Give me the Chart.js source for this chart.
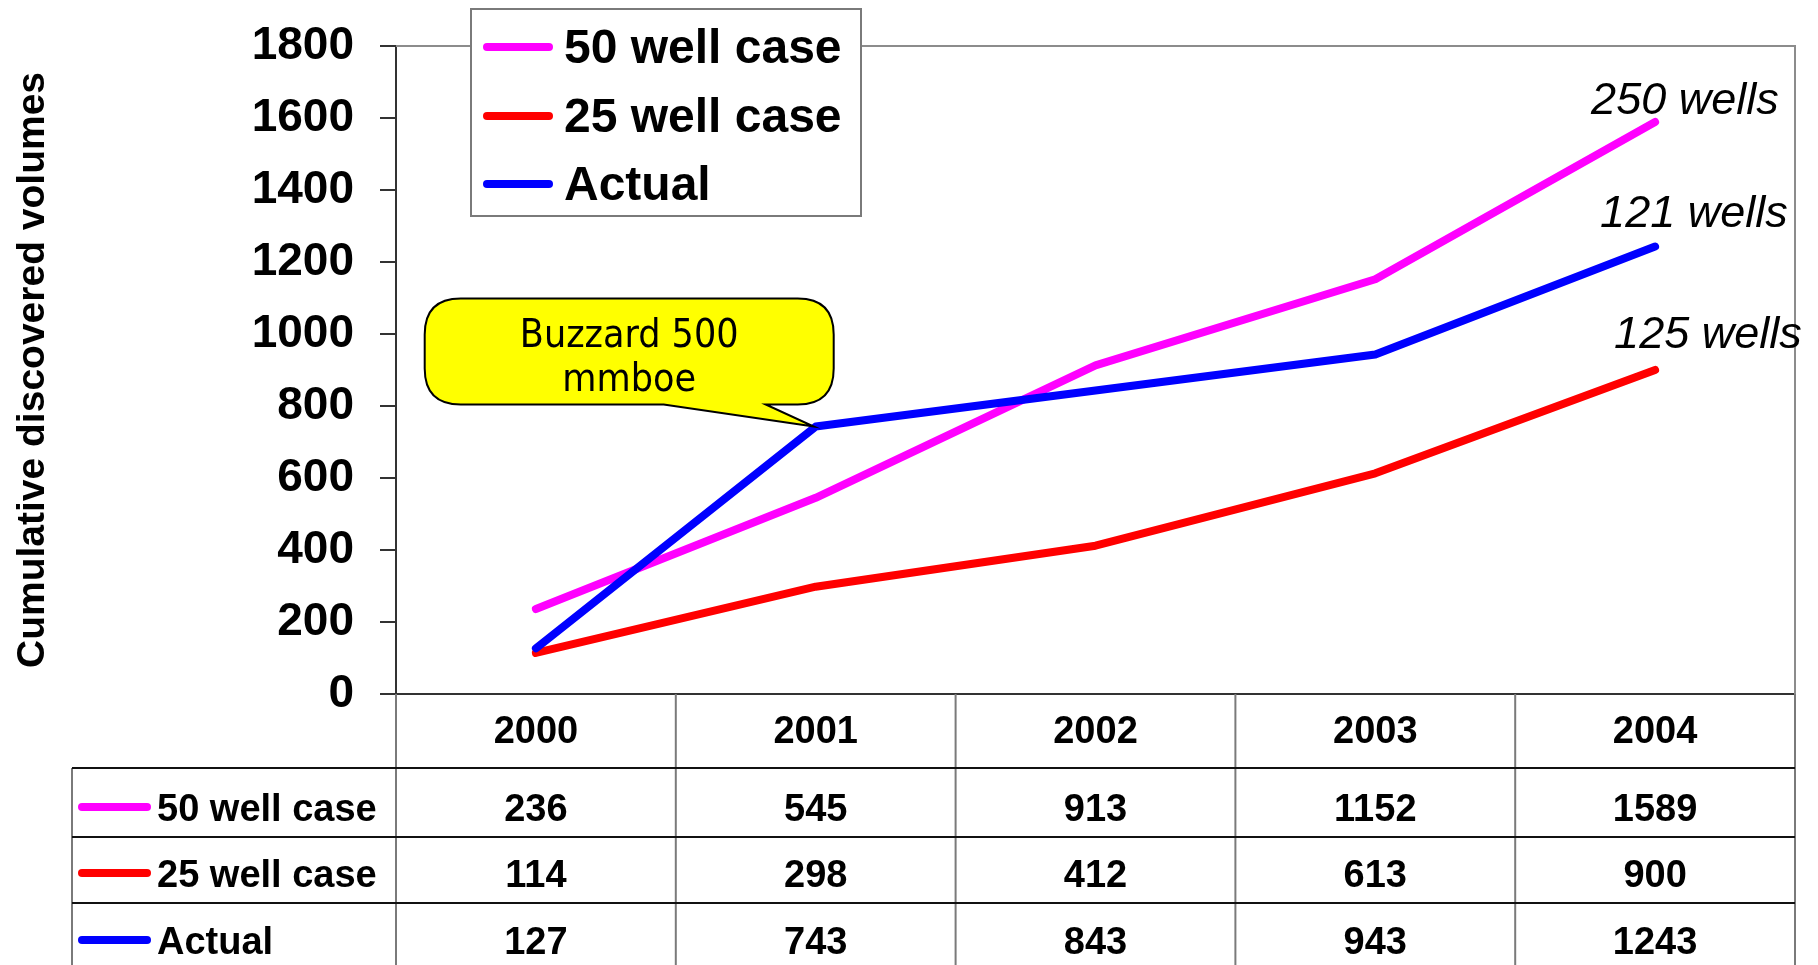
<!DOCTYPE html>
<html><head><meta charset="utf-8">
<script src="https://cdn.jsdelivr.net/npm/chart.js@4.4.1/dist/chart.umd.min.js"></script>
<style>html,body{margin:0;padding:0;background:#fff;overflow:hidden}#wrap{width:1818px;height:965px;position:relative}</style>
</head><body><div id="wrap"><canvas id="c" width="1818" height="965"></canvas></div>
<script>
const years = ['2000', '2001', '2002', '2003', '2004'];
const well50 = [236, 545, 913, 1152, 1589];
const well25 = [114, 298, 412, 613, 900];
const actual = [127, 743, 843, 943, 1243];
const seriesNames = ['50 well case', '25 well case', 'Actual'];
const seriesColors = ['#FF00FF', '#FF0000', '#0000FF'];
const endLabels = ['250 wells', '125 wells', '121 wells'];
const yTicks = [0, 200, 400, 600, 800, 1000, 1200, 1400, 1600, 1800];
const calloutLines = ['Buzzard 500', 'mmboe'];
const yTitle = 'Cumulative discovered volumes';

const seriesData = [well50, well25, actual];
const BOLD = "'Liberation Sans', Arial, sans-serif";

const deco = {
  id: 'deco',
  afterDraw(chart) {
    const ctx = chart.ctx, ca = chart.chartArea;
    const n = years.length, band = (ca.right - ca.left) / n;
    ctx.save();
    // plot area border (top, right)
    ctx.strokeStyle = '#8c8c8c'; ctx.lineWidth = 2;
    ctx.beginPath(); ctx.moveTo(ca.left, ca.top); ctx.lineTo(ca.right, ca.top); ctx.lineTo(ca.right, ca.bottom); ctx.stroke();

    // ---- data table ----
    const rowTops = [ca.bottom, ca.bottom + 74, ca.bottom + 143, ca.bottom + 209];
    const tableLeft = 72, bottom = chart.height + 10;
    ctx.strokeStyle = '#7a7a7a'; ctx.lineWidth = 2;
    for (let i = 0; i <= n; i++) {
      const x = ca.left + i * band;
      ctx.beginPath(); ctx.moveTo(x, ca.bottom); ctx.lineTo(x, bottom); ctx.stroke();
    }
    ctx.beginPath(); ctx.moveTo(tableLeft, rowTops[1]); ctx.lineTo(tableLeft, bottom); ctx.stroke();
    ctx.strokeStyle = '#111';
    for (let r = 1; r < rowTops.length; r++) {
      ctx.beginPath(); ctx.moveTo(tableLeft, rowTops[r]); ctx.lineTo(ca.right, rowTops[r]); ctx.stroke();
    }
    ctx.fillStyle = '#000'; ctx.textAlign = 'center'; ctx.textBaseline = 'middle';
    ctx.font = 'bold 38px ' + BOLD;
    const xs = chart.scales.x;
    years.forEach((y, i) => ctx.fillText(y, xs.getPixelForValue(i), ca.bottom + 39));
    const rowY = [ca.bottom + 117, ca.bottom + 183, ca.bottom + 250];
    seriesData.forEach((arr, s) => {
      ctx.textAlign = 'center';
      arr.forEach((v, i) => ctx.fillText(String(v), xs.getPixelForValue(i), rowY[s]));
      // row key
      ctx.strokeStyle = seriesColors[s]; ctx.lineWidth = 8; ctx.lineCap = 'round';
      ctx.beginPath(); ctx.moveTo(82, rowY[s] - 4); ctx.lineTo(147, rowY[s] - 4); ctx.stroke();
      ctx.textAlign = 'left';
      ctx.fillText(seriesNames[s], 157, rowY[s]);
    });

    // ---- legend ----
    ctx.lineCap = 'butt';
    ctx.fillStyle = '#fff'; ctx.fillRect(471, 9, 390, 207);
    ctx.strokeStyle = '#7a7a7a'; ctx.lineWidth = 2; ctx.strokeRect(471, 9, 390, 207);
    ctx.font = 'bold 48px ' + BOLD; ctx.textAlign = 'left';
    const legY = [47, 116, 184];
    chart.data.datasets.forEach((ds, i) => {
      ctx.strokeStyle = ds.borderColor; ctx.lineWidth = 8; ctx.lineCap = 'round';
      ctx.beginPath(); ctx.moveTo(487, legY[i]); ctx.lineTo(549, legY[i]); ctx.stroke();
      ctx.fillStyle = '#000';
      ctx.fillText(ds.label, 564, legY[i] + 3);
    });

    // ---- end labels ----
    ctx.font = 'italic 45px ' + BOLD;
    const endOff = [[-64, -20], [-41, -35], [-55, -32]];
    chart.data.datasets.forEach((ds, i) => {
      const meta = chart.getDatasetMeta(i);
      const p = meta.data[meta.data.length - 1];
      ctx.fillText(endLabels[i], p.x + endOff[i][0], p.y + endOff[i][1]);
    });

    // ---- callout ----
    const pm = chart.getDatasetMeta(2).data[1];
    const px = pm.x - 2, py = pm.y;
    const L = px - 389, R = px + 20, T = py - 128, B = py - 22, rad = 36;
    ctx.beginPath();
    ctx.moveTo(L + rad, T);
    ctx.lineTo(R - rad, T); ctx.quadraticCurveTo(R, T, R, T + rad);
    ctx.lineTo(R, B - rad); ctx.quadraticCurveTo(R, B, R - rad, B);
    ctx.lineTo(px - 48, B); ctx.lineTo(px, py); ctx.lineTo(px - 150, B);
    ctx.lineTo(L + rad, B); ctx.quadraticCurveTo(L, B, L, B - rad);
    ctx.lineTo(L, T + rad); ctx.quadraticCurveTo(L, T, L + rad, T);
    ctx.closePath();
    ctx.fillStyle = '#FFFF00'; ctx.fill();
    ctx.strokeStyle = '#000'; ctx.lineWidth = 2; ctx.lineJoin = 'miter'; ctx.stroke();
    ctx.fillStyle = '#000'; ctx.textAlign = 'center';
    ctx.font = "39px 'DejaVu Sans Condensed', 'DejaVu Sans', sans-serif";
    ctx.fillText(calloutLines[0], (L + R) / 2, py - 90);
    ctx.fillText(calloutLines[1], (L + R) / 2, py - 46);
    ctx.restore();
  }
};

new Chart(document.getElementById('c'), {
  type: 'line',
  data: {
    labels: years,
    datasets: seriesData.map((d, i) => ({
      label: seriesNames[i], data: d, borderColor: seriesColors[i], backgroundColor: seriesColors[i],
      borderWidth: 8, pointRadius: 0, tension: 0, fill: false,
      borderCapStyle: 'round', borderJoinStyle: 'round', order: 3 - i
    }))
  },
  options: {
    responsive: false, animation: false,
    layout: { padding: { left: 0, right: 23, top: 46, bottom: 0 } },
    plugins: { legend: { display: false }, tooltip: { enabled: false } },
    scales: {
      x: {
        offset: true,
        grid: { display: false },
        ticks: { display: false },
        border: { display: true, color: '#333', width: 2 },
        afterFit(s) { s.height = 271; }
      },
      y: {
        min: 0, max: 1800,
        afterBuildTicks(s) { s.ticks = yTicks.map(v => ({ value: v })); },
        ticks: { color: '#000', font: { family: BOLD, size: 46, weight: 'bold' }, padding: 26,
                 callback: (v) => String(v) },
        grid: { drawOnChartArea: false, drawTicks: true, tickLength: 16, color: '#333', lineWidth: 2 },
        border: { display: true, color: '#333', width: 2 },
        title: { display: true, text: yTitle, color: '#000', font: { family: BOLD, size: 39, weight: 'bold' }, padding: { top: 10, bottom: 0 } },
        afterFit(s) { s.width = 396; s.paddingTop = 20; s.paddingBottom = 20; }
      }
    }
  },
  plugins: [deco]
});
</script></body></html>
